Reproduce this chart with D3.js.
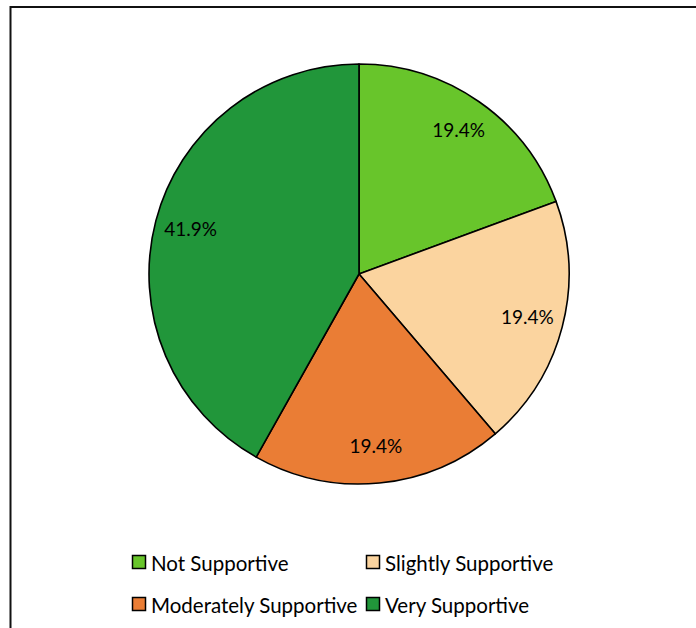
<!DOCTYPE html>
<html>
<head>
<meta charset="utf-8">
<script src="https://cdn.jsdelivr.net/npm/d3@7"></script>
<style>
  html, body { margin: 0; padding: 0; background: #fff; }
  svg { display: block; }
  text { font-family: Lato, "Open Sans", sans-serif; fill: #000; }
</style>
</head>
<body>
<svg id="chart" width="696" height="628"></svg>
<script>
// Support levels and their share of responses (%)
const categories = ["Not Supportive", "Slightly Supportive", "Moderately Supportive", "Very Supportive"];
const shares = [19.4, 19.4, 19.4, 41.9];
const colors = ["#68C52B", "#FBD49F", "#EA7D35", "#21963A"];

const width = 696, height = 628;
const cx = 359, cy = 274, radius = 210, labelRadius = 174;

const svg = d3.select("#chart");

// chart-area frame
svg.append("rect")
  .attr("x", 10.5).attr("y", 7)
  .attr("width", 720).attr("height", 660)
  .attr("fill", "none").attr("stroke", "#111").attr("stroke-width", 2);

const color = d3.scaleOrdinal().domain(categories).range(colors);

const pie = d3.pie().sort(null).value(d => d.value);
const arcs = pie(categories.map((c, i) => ({ name: c, value: shares[i] })));

const arc = d3.arc().innerRadius(0).outerRadius(radius);
const labelArc = d3.arc().innerRadius(labelRadius).outerRadius(labelRadius);

const g = svg.append("g").attr("transform", `translate(${cx},${cy})`);

g.selectAll("path.slice")
  .data(arcs)
  .join("path")
  .attr("class", "slice")
  .attr("d", arc)
  .attr("fill", d => color(d.data.name))
  .attr("stroke", "#000")
  .attr("stroke-width", 1.6)
  .attr("stroke-linejoin", "round");

g.selectAll("text.pct")
  .data(arcs)
  .join("text")
  .attr("class", "pct")
  .attr("transform", d => `translate(${labelArc.centroid(d)})`)
  .attr("text-anchor", "middle")
  .attr("dy", "0.3em")
  .attr("font-size", 19)
  .text(d => d.data.value.toFixed(1) + "%");

// legend: two columns, two rows
const legend = svg.append("g");
const colX = [132, 366], rowY = [555, 597], box = 14;

const items = legend.selectAll("g.item")
  .data(categories)
  .join("g")
  .attr("class", "item")
  .attr("transform", (d, i) => `translate(${colX[i % 2]},${rowY[Math.floor(i / 2)]})`);

items.append("rect")
  .attr("x", 0.5).attr("y", 0.5)
  .attr("width", box - 1).attr("height", box - 1)
  .attr("fill", d => color(d))
  .attr("stroke", "#000").attr("stroke-width", 1.5);

items.append("text")
  .attr("x", 19)
  .attr("y", 15.5)
  .attr("font-size", 20.5)
  .text(d => d);
</script>
</body>
</html>
